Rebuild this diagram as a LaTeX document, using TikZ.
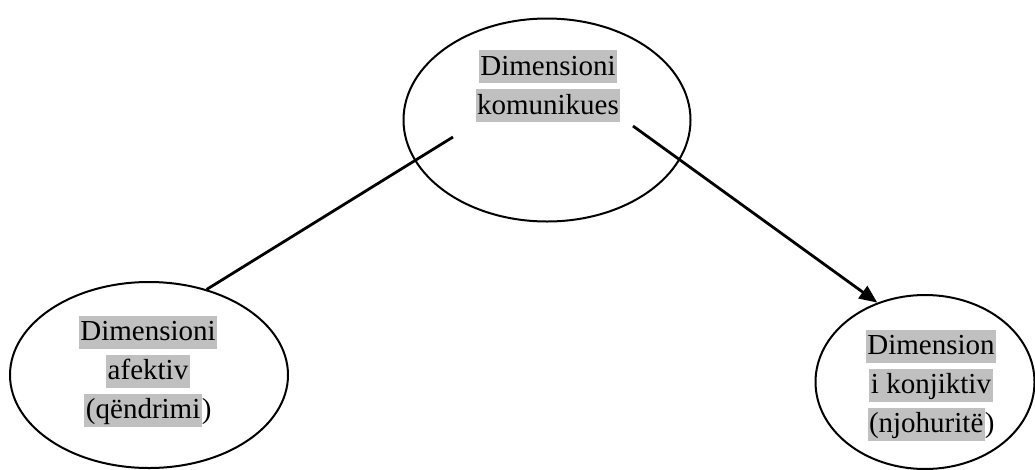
\documentclass[tikz,border=0pt]{standalone}
\usepackage{fontspec}
\setmainfont{Liberation Serif}
\usetikzlibrary{shapes.geometric,arrows.meta}
\definecolor{hlgray}{RGB}{192,192,192}
% grey highlight behind one line of text
\newcommand{\hlbox}[1]{{\setlength{\fboxsep}{1.5pt}\colorbox{hlgray}{\rule[-6.5pt]{0pt}{30pt}#1}}}
\begin{document}
\begin{tikzpicture}[x=1pt,y=-1pt,
  dim/.style={draw,ellipse,line width=2pt,inner sep=0pt},
  dimtext/.style={inner sep=0pt,align=center,font=\fontsize{29}{39}\selectfont},
  link/.style={line width=2.8pt}]
\useasboundingbox (0,0) rectangle (1035,469);

% the three dimensions
\node[dim,minimum width=287pt,minimum height=203pt] (K) at (547,120) {};
\node[dim,minimum width=278pt,minimum height=186pt] (A) at (149,375) {};
\node[dim,minimum width=219pt,minimum height=174pt] (C) at (925,382) {};

\node[dimtext] (Kt) at (548,86) {\hlbox{Dimensioni}\\\hlbox{komunikues}};
\node[dimtext] (At) at (148,371) {\hlbox{Dimensioni}\\\hlbox{afektiv}\\\hlbox{(qëndrimi})};
\node[dimtext] (Ct) at (931,385) {\hlbox{Dimension}\\\hlbox{i konjiktiv}\\\hlbox{(njohuritë})};

% connectors start inside the upper ellipse
\coordinate (kL) at (453,137);
\coordinate (kR) at (633,126);
\draw[link] (kL) -- (A.56);
\draw[link,-{Triangle[length=18pt,width=15pt]}] (kR) -- (C.121);
\end{tikzpicture}
\end{document}
